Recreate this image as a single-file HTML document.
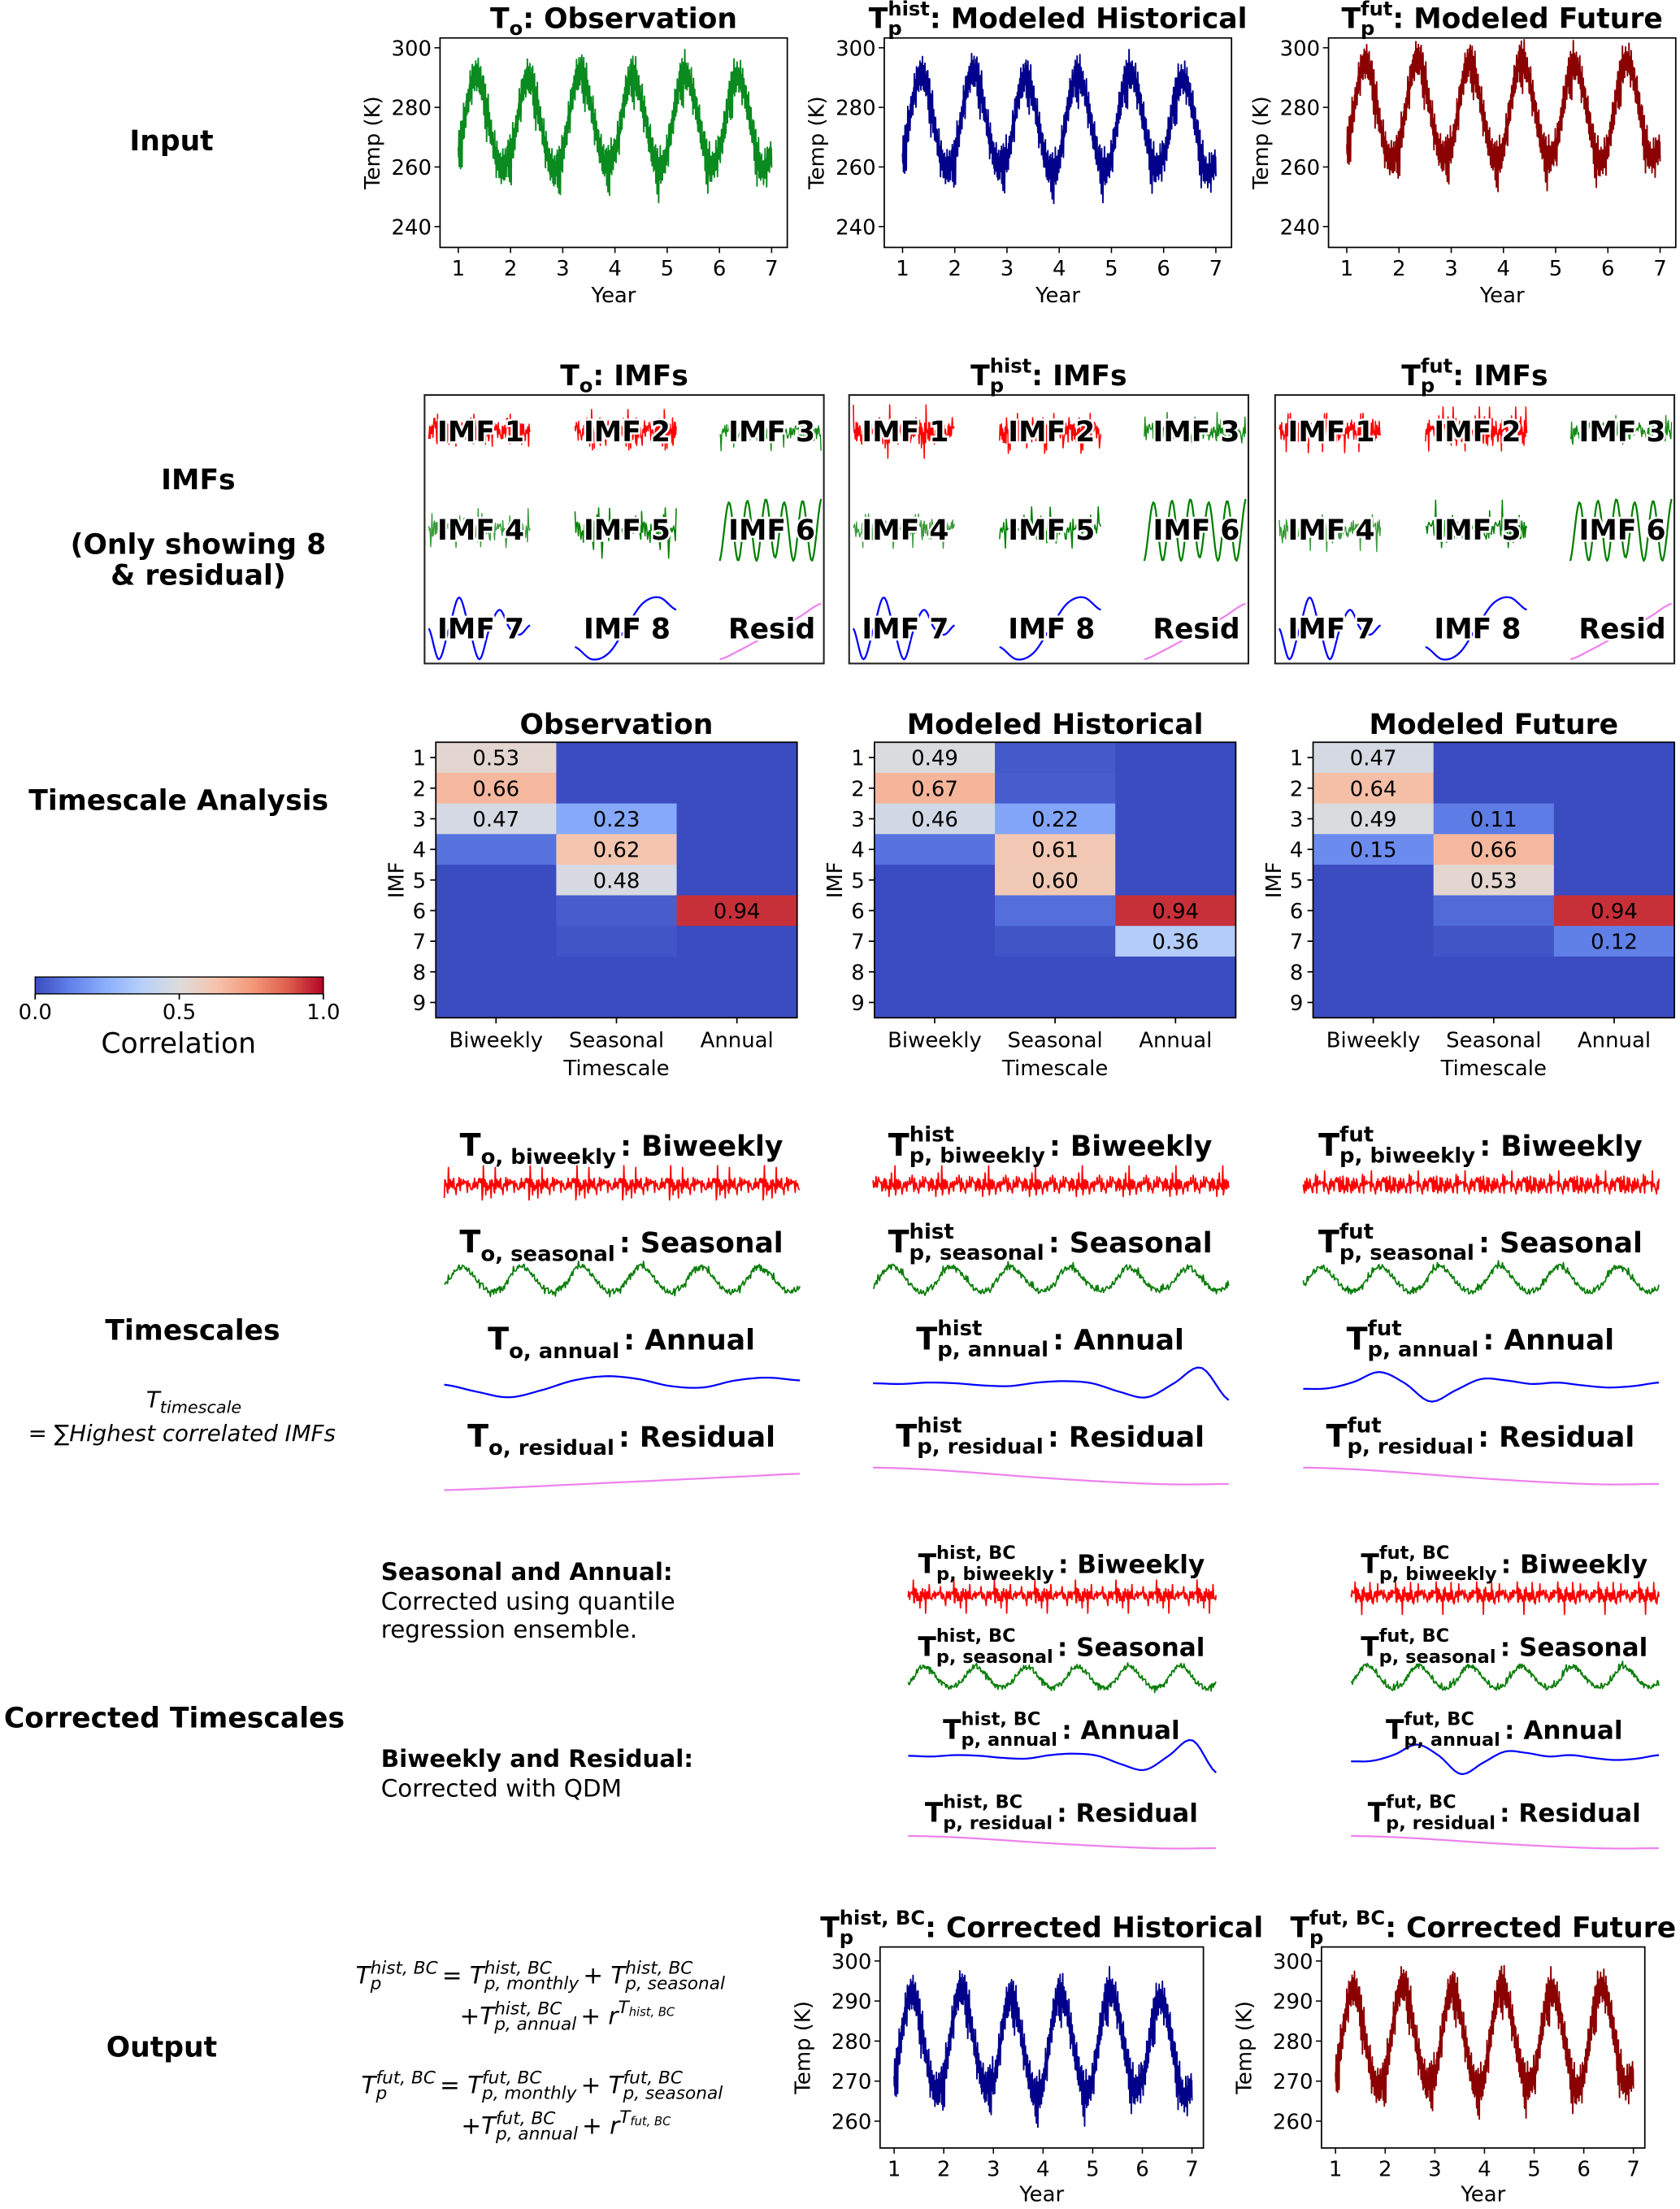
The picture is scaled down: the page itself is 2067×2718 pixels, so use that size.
<!DOCTYPE html>
<html><head><meta charset="utf-8"><style>
html,body{margin:0;padding:0;background:#fff}
svg{display:block}
text{font-family:"DejaVu Sans","Liberation Sans",sans-serif}
</style></head><body>
<svg id="fig" xmlns="http://www.w3.org/2000/svg" width="2067" height="2718" viewBox="0 0 1195 1571.4">
<rect x="0" y="0" width="1195" height="1571.4" fill="#fff"/>
<g font-weight="bold" font-size="20" text-anchor="middle">
<text x="122" y="107">Input</text>
<text x="141" y="348">IMFs</text>
<text x="141" y="394">(Only showing 8</text>
<text x="141" y="416">&amp; residual)</text>
<text x="127" y="576">Timescale Analysis</text>
<text x="137" y="953">Timescales</text>
<text x="124" y="1229">Corrected Timescales</text>
<text x="115" y="1463">Output</text>
</g>
<g font-size="16" font-style="italic">
<text x="104" y="1001">T<tspan font-size="12" dy="4">timescale</tspan></text>
<text x="20" y="1025">= ∑Highest correlated IMFs</text>
</g>
<g font-size="17">
<text x="271" y="1124" font-weight="bold">Seasonal and Annual:</text>
<text x="271" y="1145">Corrected using quantile</text>
<text x="271" y="1165">regression ensemble.</text>
<text x="271" y="1257" font-weight="bold">Biweekly and Residual:</text>
<text x="271" y="1278">Corrected with QDM</text>
</g>
</svg>
<script>
// ---------- data ----------
const heatRows = ['1','2','3','4','5','6','7','8','9'];
const heatCols = ['Biweekly','Seasonal','Annual'];
const obsBiweekly = [0.53,0.66,0.47,0.09,0,0,0,0,0];
const obsSeasonal = [0,0,0.23,0.62,0.48,0.04,0.02,0,0];
const obsAnnual = [0,0,0,0,0,0.94,0,0,0];
const histBiweekly = [0.49,0.67,0.46,0.09,0,0,0,0,0];
const histSeasonal = [0.03,0.04,0.22,0.61,0.60,0.08,0.02,0,0];
const histAnnual = [0,0,0,0,0,0.94,0.36,0,0];
const futBiweekly = [0.47,0.64,0.49,0.15,0,0,0,0,0];
const futSeasonal = [0,0,0.11,0.66,0.53,0.07,0.02,0,0];
const futAnnual = [0,0,0,0,0,0.94,0.12,0,0];
const yearTicks = [1,2,3,4,5,6,7];
const inputTempTicks = [240,260,280,300];
const outputTempTicks = [260,270,280,290,300];
const monthCycleObs = [265,272,281,288,291,289,283,276,268,262,259,261];
const monthCycleHist = [263,271,280,287,291,290,285,277,269,262,259,260];
const monthCycleFut = [266,274,283,291,295,294,288,280,272,265,262,263];
const monthCycleHistBC = [270,276,283,289,292,291,287,281,275,270,267,268];
const monthCycleFutBC = [271,277,284,290,293,292,288,282,276,271,268,269];
const yearOffsetObs = [0,-1,1,0,1,0];
const yearOffsetHist = [0,1,-1,0,1,-1];
const yearOffsetFut = [0,1,0,1,0,1];
const noise = [0.2,-0.5,0.8,-0.9,0.3,0.6,-0.2,-0.7,0.9,-0.4,0.1,0.5,-0.8,0.7,-0.3,0.4,-0.6,0.95,-0.1,-0.9,0.35,0.65,-0.45,0.15,-0.75,0.55,-0.25,0.85,-0.65,0.05,0.45,-0.35,0.75,-0.85,0.25,-0.05,0.6,-0.55,0.9,-0.15,-0.7,0.3,0.5,-0.95,0.1,0.8,-0.4,0.2,-0.6,0.7,-0.2,0.4,-0.8,0.65,-0.3,0.05,0.95,-0.5,0.35,-0.75,0.15,0.55,-0.1,-0.45,0.85,-0.25,0.4,-0.9,0.6,0.0,-0.6,0.3,0.75,-0.35,0.12,-0.82,0.47,-0.17,0.68];
const annualObs = [0,-0.5,-0.9,-0.4,0.3,0.6,0.4,-0.1,-0.2,0.3,0.5,0.3];
const annualHist = [0.1,0.05,0.15,0.1,-0.05,-0.1,0.15,0.25,0.1,-0.5,-0.9,0.1,1.2,-1.1];
const annualFut = [-0.3,-0.25,0.2,0.9,0.1,-1.2,-0.4,0.4,0.3,0.05,0.15,-0.05,-0.2,-0.1,0.15];
const residObs = [-1,-0.8,-0.55,-0.3,-0.05,0.2,0.45];
const residHist = [1,0.85,0.55,0.2,-0.1,-0.35,-0.5,-0.45];
const imf6Shape = [-1,0.9,-1,0.95,-1,1,-0.9,0.9,-1,0.95,-1,1];
const imf7Shape = [0,-1,0,1,0,-1,0,0.6,0,-0.2,0.1];
const imf8Shape = [-0.6,-1,-0.8,0,0.8,1,0.6];
const residCurve = [-1,-0.7,-0.35,0,0.4,0.8];

// ---------- helpers ----------
const svg = document.getElementById('fig');
const NS='http://www.w3.org/2000/svg';
function el(tag, attrs, parent){const e=document.createElementNS(NS,tag);for(const k in attrs)e.setAttribute(k,attrs[k]);(parent||svg).appendChild(e);return e;}
function txt(x,y,s,attrs,parent){const t=el('text',Object.assign({x:x,y:y},attrs||{}),parent);t.textContent=s;return t;}
function poly(pts,color,w,parent){const d=pts.map((p,i)=>(i?'L':'M')+p[0].toFixed(2)+' '+p[1].toFixed(2)).join('');return el('path',{d:d,fill:'none',stroke:color,'stroke-width':w,'stroke-linejoin':'round'},parent);}
function smooth(arr,n){
  const out=[];const m=arr.length-1;
  for(let i=0;i<=n;i++){const t=i/n*m;const k=Math.min(Math.floor(t),m-1);const u=t-k;
    const p0=arr[Math.max(k-1,0)],p1=arr[k],p2=arr[k+1],p3=arr[Math.min(k+2,m)];
    out.push(0.5*((2*p1)+(-p0+p2)*u+(2*p0-5*p1+4*p2-p3)*u*u+(-p0+3*p1-3*p2+p3)*u*u*u));}
  return out;}
function cmap(v){const st=[[59,76,192],[98,130,234],[141,176,254],[184,208,249],[221,220,220],[245,196,173],[244,154,123],[222,96,77],[180,4,38]];
  v=Math.max(0,Math.min(1,v))*8;const i=Math.min(Math.floor(v),7);const f=v-i;
  const c=st[i].map((a,j)=>Math.round(a+(st[i+1][j]-a)*f));return 'rgb('+c.join(',')+')';}
function rich(x,y,items,anchor,weight,name){
  const g=el('g',{'font-weight':weight||'bold'});
  
  
  let cx=0,prevStart=0;
  items.forEach(it=>{
    const t=txt(0,y+(it.dy||0),it.t,{'font-size':it.fs,'font-style':it.italic?'italic':'normal'},g);
    const w=t.getComputedTextLength();
    if(it.stack){t.setAttribute('x',prevStart);cx=Math.max(cx,prevStart+w)+(it.gap||0);}
    else{t.setAttribute('x',cx);prevStart=cx;cx+=w+(it.gap||0);}
  });
  const off=anchor==='middle'?x-cx/2:x;
  g.setAttribute('transform','translate('+off.toFixed(2)+',0)');
  return g;}
function nz(k){return noise[k%noise.length];}
function buildSeries(cycle,offsets,amp){const v=[];let k=0;
  for(let y=0;y<offsets.length;y++)for(let m=0;m<12;m++){const a=cycle[m]+offsets[y],b=cycle[(m+1)%12]+offsets[y];
    for(let s=0;s<14;s++){const spike=Math.abs(nz(k*13+5))>0.85?1.8:1;v.push(a+(b-a)*s/14+amp*spike*nz(k)*(0.5+0.5*Math.abs(nz(k*7+3))));k++;}}
  return v;}

// ---------- time series axes ----------
function tsAxes(name,x0,y0,x1,y1,ymin,ymax,yt,xmin,xmax,series,color,titleItems,ylabelX,xlabelY){
  const g=el('g',{});
  
  
  const X=v=>x0+(v-xmin)/(xmax-xmin)*(x1-x0), Y=v=>y1-(v-ymin)/(ymax-ymin)*(y1-y0);
  const n=series.length;const pts=series.map((v,i)=>[X(1+6*i/(n-1)),Y(v)]);
  const p=poly(pts,color,1.1,g);
  
  
  el('rect',{x:x0,y:y0,width:x1-x0,height:y1-y0,fill:'none',stroke:'#000','stroke-width':1},g);
  yt.forEach(t=>{const yy=Y(t);el('line',{x1:x0-4,x2:x0,y1:yy,y2:yy,stroke:'#000','stroke-width':0.9},g);
    const lab=txt(x0-6,yy+5.5,String(t),{'font-size':15,'text-anchor':'end'},g);
    
    });
  yearTicks.forEach(t=>{const xx=X(t);el('line',{x1:xx,x2:xx,y1:y1,y2:y1+4,stroke:'#000','stroke-width':0.9},g);
    const lab=txt(xx,y1+20,String(t),{'font-size':15,'text-anchor':'middle'},g);
    
    });
  const yl=txt(0,0,'Temp (K)',{'font-size':15,'text-anchor':'middle',transform:'translate('+ylabelX+','+((y0+y1)/2)+') rotate(-90)'},g);
  
  
  const xl=txt((x0+x1)/2,xlabelY,'Year',{'font-size':15,'text-anchor':'middle'},g);
  
  
  rich((x0+x1)/2,y0-7,titleItems,'middle','bold',name+'-title');
}
const sObs=buildSeries(monthCycleObs,yearOffsetObs,8);
const sHist=buildSeries(monthCycleHist,yearOffsetHist,8);
const sFut=buildSeries(monthCycleFut,yearOffsetFut,8);
const sHistBC=buildSeries(monthCycleHistBC,yearOffsetHist,6);
const sFutBC=buildSeries(monthCycleFutBC,yearOffsetFut,6);
const inYmin=233,inYmax=303.3,inXmin=0.65,inXmax=7.3;
tsAxes('obs-input-chart',313,27,560,176,inYmin,inYmax,inputTempTicks,inXmin,inXmax,sObs,'#0a8a1f',
  [{t:'T',fs:20},{t:'o',fs:14,dy:5},{t:': Observation',fs:20}],270,215);
tsAxes('hist-input-chart',629,27,876,176,inYmin,inYmax,inputTempTicks,inXmin,inXmax,sHist,'#00008b',
  [{t:'T',fs:20},{t:'hist',fs:14,dy:-9},{t:'p',fs:14,dy:5,stack:true},{t:': Modeled Historical',fs:20}],586,215);
tsAxes('fut-input-chart',945,27,1192,176,inYmin,inYmax,inputTempTicks,inXmin,inXmax,sFut,'#8b0000',
  [{t:'T',fs:20},{t:'fut',fs:14,dy:-9},{t:'p',fs:14,dy:5,stack:true},{t:': Modeled Future',fs:20}],902,215);
tsAxes('hist-output-chart',626,1385,856,1528,253.3,303.5,outputTempTicks,0.717,7.23,sHistBC,'#00008b',
  [{t:'T',fs:20},{t:'hist, BC',fs:14,dy:-9},{t:'p',fs:14,dy:5,stack:true},{t:': Corrected Historical',fs:20}],576,1566);
tsAxes('fut-output-chart',940,1385,1170,1528,253.3,303.5,outputTempTicks,0.717,7.23,sFutBC,'#8b0000',
  [{t:'T',fs:20},{t:'fut, BC',fs:14,dy:-9},{t:'p',fs:14,dy:5,stack:true},{t:': Corrected Future',fs:20}],890,1566);

// ---------- IMF panels ----------
function noisyBand(x0,w,cy,amp,color,seed,width,parent,n){const pts=[];n=n||160;
  for(let i=0;i<=n;i++){const a=nz(i*5+seed);const b=nz(i*11+seed*3);const spike=Math.abs(nz(i*17+seed))>0.8?1.6:0.7;pts.push([x0+w*i/n,cy-amp*a*spike*(0.3+0.7*Math.abs(b))]);}
  return poly(pts,color,width||1,parent);}
function shapeLine(arr,x0,w,cy,amp,color,parent){const v=smooth(arr,80);return poly(v.map((s,i)=>[x0+w*i/80,cy-amp*s]),color,1.3,parent);}
function imfPanel(name,bx,title,seed){
  const g=el('g',{});
  
  
  el('rect',{x:bx,y:281,width:284,height:191,fill:'none',stroke:'#222','stroke-width':1.2},g);
  const cols=[bx+3,bx+107,bx+210],rows=[307,377,447];
  noisyBand(cols[0],72,rows[0],16,'#ff0000',seed+1,0.9,g,220);
  noisyBand(cols[1],72,rows[0],16,'#ff0000',seed+5,0.9,g,220);
  noisyBand(cols[2],72,rows[0],12,'#138a13',seed+9,0.8,g,160);
  noisyBand(cols[0],72,rows[1],14,'#3a9a3a',seed+13,0.8,g,160);
  noisyBand(cols[1],72,rows[1],15,'#008000',seed+17,0.9,g,120);
  shapeLine(imf6Shape,cols[2],72,rows[1],22,'#008000',g);
  shapeLine(imf7Shape,cols[0],72,rows[2],22,'#0000ff',g);
  shapeLine(imf8Shape,cols[1],72,rows[2],22,'#0000ff',g);
  shapeLine(residCurve,cols[2],72,rows[2],22,'#ee82ee',g);
  const labels=['IMF 1','IMF 2','IMF 3','IMF 4','IMF 5','IMF 6','IMF 7','IMF 8','Resid'];
  labels.forEach((l,i)=>{const t=txt(cols[i%3]+37,rows[Math.floor(i/3)]+7,l,{'font-size':20,'font-weight':'bold','text-anchor':'middle',stroke:'#fff','stroke-width':3,'paint-order':'stroke',fill:'#000'},g);
    
    });
  rich(bx+142,274,title,'middle','bold',name+'-title');
}
imfPanel('obs-imf-panel',302,[{t:'T',fs:20},{t:'o',fs:14,dy:5},{t:': IMFs',fs:20}],0);
imfPanel('hist-imf-panel',604,[{t:'T',fs:20},{t:'hist',fs:14,dy:-9},{t:'p',fs:14,dy:5,stack:true},{t:': IMFs',fs:20}],7);
imfPanel('fut-imf-panel',907,[{t:'T',fs:20},{t:'fut',fs:14,dy:-9},{t:'p',fs:14,dy:5,stack:true},{t:': IMFs',fs:20}],19);

// ---------- heatmaps ----------
function heatmap(name,x0,title,cols){
  const g=el('g',{});
  
  
  const y0=528,w=257,h=196;const cw=w/3,rh=h/9;
  const xb=i=>x0+i*cw, yb=r=>y0+r*rh;
  cols.forEach((col,ci)=>col.forEach((v,ri)=>{
    const c=el('rect',{x:xb(ci),y:yb(ri),width:cw+0.4,height:rh+0.4,fill:cmap(v)},g);
    
    
    if(v>=0.1){const t=txt(xb(ci)+cw/2,yb(ri)+rh/2+5.5,v.toFixed(2),{'font-size':15,'text-anchor':'middle'},g);
      
      }
  }));
  el('rect',{x:x0,y:y0,width:w,height:h,fill:'none',stroke:'#000','stroke-width':1},g);
  heatRows.forEach((r,i)=>{el('line',{x1:x0-4,x2:x0,y1:yb(i)+rh/2,y2:yb(i)+rh/2,stroke:'#000'},g);
    const t=txt(x0-7,yb(i)+rh/2+5.5,r,{'font-size':15,'text-anchor':'end'},g);
    
    });
  heatCols.forEach((c,i)=>{el('line',{x1:xb(i)+cw/2,x2:xb(i)+cw/2,y1:y0+h,y2:y0+h+4,stroke:'#000'},g);
    const t=txt(xb(i)+cw/2,y0+h+21,c,{'font-size':15,'text-anchor':'middle'},g);
    
    });
  const xl=txt(x0+w/2,y0+h+41,'Timescale',{'font-size':15,'text-anchor':'middle'},g);
  
  
  const yl=txt(0,0,'IMF',{'font-size':15,'text-anchor':'middle',transform:'translate('+(x0-23)+','+(y0+h/2)+') rotate(-90)'},g);
  
  
  const tt=txt(x0+w/2,y0-6,title,{'font-size':20,'font-weight':'bold','text-anchor':'middle'},g);
  
  
}
heatmap('obs-heatmap',310,'Observation',[obsBiweekly,obsSeasonal,obsAnnual]);
heatmap('hist-heatmap',622,'Modeled Historical',[histBiweekly,histSeasonal,histAnnual]);
heatmap('fut-heatmap',934,'Modeled Future',[futBiweekly,futSeasonal,futAnnual]);
(function(){const d=el('defs',{});const lg=el('linearGradient',{id:'cw',x1:0,x2:1,y1:0,y2:0},d);
  for(let i=0;i<=8;i++)el('stop',{offset:(i/8),'stop-color':cmap(i/8)},lg);
  const g=el('g',{});
  
  
  el('rect',{x:25,y:695,width:205,height:12,fill:'url(#cw)',stroke:'#000','stroke-width':0.8},g);
  [[0,'0.0'],[0.5,'0.5'],[1,'1.0']].forEach(([v,l])=>{const x=25+205*v;el('line',{x1:x,x2:x,y1:707,y2:711,stroke:'#000'},g);
    txt(x,725,l,{'font-size':15,'text-anchor':'middle'},g);});
  const t=txt(127,749,'Correlation',{'font-size':20,'text-anchor':'middle'},g);
  
  
})();

// ---------- timescales ----------
function seasonalLine(x0,w,cy,amp,seed,parent){const pts=[];const n=432;const cyc=[-0.6,-0.1,0.5,0.9,1,0.7,0.3,-0.2,-0.6,-0.9,-1,-0.8];
  for(let i=0;i<=n;i++){const m=Math.floor(i/6)%12;const m2=(m+1)%12;const f=(i%6)/6;const base=cyc[m]+(cyc[m2]-cyc[m])*f;
    const sp=Math.abs(nz(i*13+seed))>0.85?1.8:0.8;pts.push([x0+w*i/n,cy-amp*(base+0.3*sp*nz(i*3+seed))]);}
  return poly(pts,'#0a7d0a',1,parent);}
function tsBlock(name,cx,x0,w,ys,names,kind,big){
  const g=el('g',{});
  
  
  const fs=big?22:19,sfs=big?15:13,lfs=big?20:18;
  const labels=[['biweekly','Biweekly'],['seasonal','Seasonal'],['annual','Annual'],['residual','Residual']];
  labels.forEach(([s,l],i)=>{
    const items=[{t:'T',fs:fs}];
    if(kind.sup){items.push({t:kind.sup,fs:sfs,dy:-10});items.push({t:kind.sub+', '+s,fs:sfs,dy:5,stack:true,gap:3});}
    else items.push({t:kind.sub+', '+s,fs:sfs,dy:6,gap:3});
    items.push({t:': '+l,fs:lfs});
    rich(cx,ys[i][0],items,'middle','bold',name+'-'+s+'-title');
  });
  const r=noisyBand(x0,w,ys[0][1],big?11:10,'#ff0000',names[0],1,g,600);  
  const s=seasonalLine(x0,w,ys[1][1],big?9:8,names[1],g);  
  const a=shapeLine(names[2],x0,w,ys[2][1],10,'#0000ff',g);  
  const rs=shapeLine(names[3],x0,w,ys[3][1],big?8:6,'#ee82ee',g);  
}
const tsY=[[822,843],[891,910],[960,985],[1029,1052]];
tsBlock('obs-timescales',442,316,253,tsY,[3,2,annualObs,residObs],{sub:'o'},true);
tsBlock('hist-timescales',747,621,253,tsY,[11,9,annualHist,residHist],{sup:'hist',sub:'p'},true);
tsBlock('fut-timescales',1053,927,253,tsY,[23,17,annualFut,residHist],{sup:'fut',sub:'p'},true);
const cY=[[1119,1135],[1178,1193],[1237,1250],[1296,1312]];
tsBlock('hist-corrected',755,646,219,cY,[31,13,annualHist,residHist],{sup:'hist, BC',sub:'p'},false);
tsBlock('fut-corrected',1070,961,219,cY,[41,27,annualFut,residHist],{sup:'fut, BC',sub:'p'},false);

// ---------- formulas ----------
function formula(x,y,lab,name,line2x){
  const F=17,S=12.5;
  rich(x,y,[{t:'T',fs:F,italic:1},{t:lab,fs:S,dy:-7,italic:1},{t:'p',fs:S,dy:4,stack:true,italic:1,gap:3},{t:'= T',fs:F,italic:1},{t:lab,fs:S,dy:-7,italic:1},{t:'p, monthly',fs:S,dy:4,stack:true,italic:1,gap:3},
    {t:'+ T',fs:F,italic:1},{t:lab,fs:S,dy:-7,italic:1},{t:'p, seasonal',fs:S,dy:4,stack:true,italic:1}],'start','normal',name+'-line1');
  rich(line2x,y+29,[{t:'+T',fs:F,italic:1},{t:lab,fs:S,dy:-7,italic:1},{t:'p, annual',fs:S,dy:4,stack:true,italic:1,gap:3},{t:'+ r',fs:F,italic:1},{t:'T',fs:S,dy:-8,italic:1},{t:lab,fs:8.5,dy:-6,italic:1}],'start','normal',name+'-line2');
}
formula(253,1411,'hist, BC','hist-formula',327);
formula(257,1489,'fut, BC','fut-formula',328);
</script>
</body></html>
